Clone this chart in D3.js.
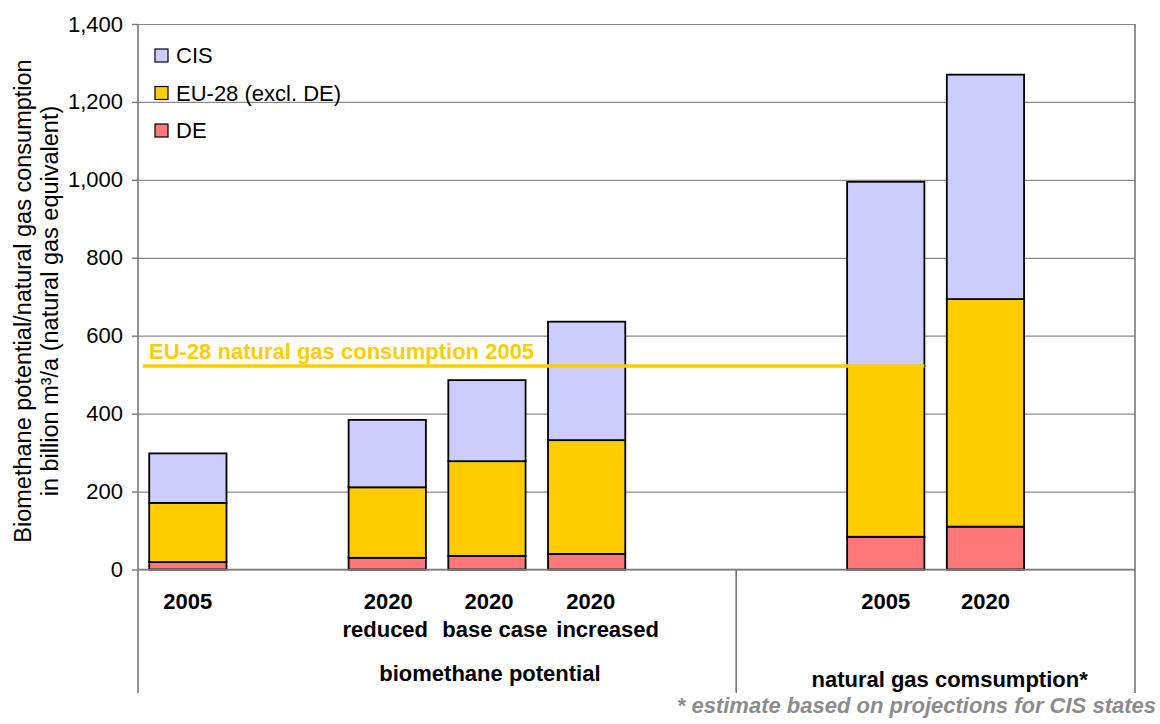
<!DOCTYPE html>
<meta charset="utf-8">
<style>
    body {
        margin: 0;
        background: #fff;
    }

    svg {
        font-family: "Liberation Sans", Arial, Helvetica, sans-serif;
        display: block;
    }

    .grid line {
        stroke: #8a8a8a;
        stroke-width: 1.2px;
    }

    .axisLine {
        stroke: #777;
        stroke-width: 1.6px;
        fill: none;
    }

    rect.bar {
        stroke: #000;
        stroke-width: 1.8px;
    }

    text {
        font-size: 22px;
        fill: #000;
    }
</style>

<body>
    <script src="https://d3js.org/d3.v7.min.js"></script>
    <script>

        // ---- data (billion m3/a) ----
        var categories = ["2005", "", "2020", "2020", "2020", "", "", "2005", "2020", ""];
        var subLabels = ["", "", "reduced", "base case", "increased", "", "", "", "", ""];
        var deValues = [19, null, 30, 35, 40, null, null, 84, 110, null];
        var euValues = [152, null, 181, 243, 292, null, null, 438, 584, null];
        var cisValues = [127, null, 173, 208, 304, null, null, 473, 576, null];
        var seriesNames = ["DE", "EU-28 (excl. DE)", "CIS"];
        var seriesColors = ["#ff7878", "#ffcc00", "#ccccff"];
        var yTicks = [0, 200, 400, 600, 800, 1000, 1200, 1400];
        var eu28Consumption2005 = 522;

        var width = 1160,
            height = 724;

        var plotLeft = 138, plotRight = 1135, plotTop = 24, plotBottom = 569.5, axisBottom = 693;

        var svg = d3.select("body")
            .append("svg")
            .attr("width", width)
            .attr("height", height);

        var idx = categories.map(function (d, i) { return i; });

        var x = d3.scaleBand()
            .domain(idx)
            .range([plotLeft, plotRight])
            .paddingInner(0.225)
            .paddingOuter(0.1125);

        var y = d3.scaleLinear()
            .domain([0, 1400])
            .range([plotBottom, plotTop]);

        // left edge of a slot
        function slotEdge(i) {
            return x(i) - x.step() * x.paddingInner() / 2;
        }

        /* ------- GRID + Y AXIS -------*/
        svg.append("g")
            .attr("class", "grid")
            .attr("transform", "translate(" + plotLeft + ",0)")
            .call(d3.axisLeft(y).tickValues(yTicks).tickSize(-(plotRight - plotLeft)).tickFormat(""))
            .call(function (g) { g.select(".domain").remove(); });

        var yAxis = svg.append("g")
            .attr("transform", "translate(" + plotLeft + ",0)")
            .call(d3.axisLeft(y).tickValues(yTicks).tickSize(6).tickPadding(9).tickFormat(d3.format(",")));
        yAxis.select(".domain").remove();
        yAxis.selectAll(".tick line").attr("stroke", "#777").attr("stroke-width", 1.4);
        yAxis.selectAll(".tick text")
            .attr("font-family", null)
            .attr("font-size", null)
            .style("font-size", "22px")
            .attr("fill", "#000");

        /* ------- BARS -------*/
        var rows = idx.filter(function (i) { return deValues[i] != null; }).map(function (i) {
            return { i: i, DE: deValues[i], EU: euValues[i], CIS: cisValues[i] };
        });

        var stack = d3.stack().keys(["DE", "EU", "CIS"]);
        var layers = stack(rows);

        svg.append("g").selectAll("g")
            .data(layers)
            .join("g")
            .attr("fill", function (d, k) { return seriesColors[k]; })
            .selectAll("rect")
            .data(function (d) { return d; })
            .join("rect")
            .attr("class", "bar")
            .attr("x", function (d) { return x(d.data.i); })
            .attr("width", x.bandwidth())
            .attr("y", function (d) { return y(d[1]); })
            .attr("height", function (d) { return y(d[0]) - y(d[1]); });

        /* ------- EU-28 REFERENCE LINE -------*/
        var ng2005 = 7;
        svg.append("line")
            .attr("x1", plotLeft + 5)
            .attr("x2", x(ng2005) + x.bandwidth())
            .attr("y1", y(eu28Consumption2005))
            .attr("y2", y(eu28Consumption2005))
            .attr("stroke", "#ffcc00")
            .attr("stroke-width", 3.5);

        svg.append("text")
            .attr("x", plotLeft + 11)
            .attr("y", y(eu28Consumption2005) - 7)
            .attr("font-weight", "bold")
            .style("fill", "#ffcc00")
            .text("EU-28 natural gas consumption 2005");

        /* ------- AXIS FRAME -------*/
        svg.append("line").attr("class", "axisLine")
            .attr("x1", plotLeft).attr("x2", plotLeft).attr("y1", plotTop).attr("y2", axisBottom);
        svg.append("line").attr("class", "axisLine")
            .attr("x1", plotLeft).attr("x2", plotRight).attr("y1", plotBottom).attr("y2", plotBottom);
        svg.append("line").attr("class", "axisLine")
            .attr("x1", plotRight).attr("x2", plotRight).attr("y1", plotTop).attr("y2", axisBottom);
        svg.append("line").attr("class", "axisLine")
            .attr("x1", slotEdge(6)).attr("x2", slotEdge(6)).attr("y1", plotBottom).attr("y2", axisBottom);

        /* ------- CATEGORY LABELS -------*/
        var cx = function (i) { return x(i) + x.bandwidth() / 2; };
        var catShift = [0, 0, 1, 2, 4, 0, 0, 0, 0, 0];
        var subShift = [0, 0, -2, 8, 21, 0, 0, 0, 0, 0];

        svg.append("g").selectAll("text")
            .data(idx.filter(function (i) { return categories[i] !== ""; }))
            .join("text")
            .attr("x", function (i) { return cx(i) + catShift[i]; })
            .attr("y", 609)
            .attr("text-anchor", "middle")
            .attr("font-weight", "bold")
            .text(function (i) { return categories[i]; });

        svg.append("g").selectAll("text")
            .data(idx.filter(function (i) { return subLabels[i] !== ""; }))
            .join("text")
            .attr("x", function (i) { return cx(i) + subShift[i]; })
            .attr("y", 637)
            .attr("text-anchor", "middle")
            .attr("font-weight", "bold")
            .text(function (i) { return subLabels[i]; });

        svg.append("text")
            .attr("x", cx(3) + 3)
            .attr("y", 681)
            .attr("text-anchor", "middle")
            .attr("font-weight", "bold")
            .text("biomethane potential");

        svg.append("text")
            .attr("x", (cx(7) + cx(8)) / 2 + 14)
            .attr("y", 687)
            .attr("text-anchor", "middle")
            .attr("font-weight", "bold")
            .text("natural gas comsumption*");

        /* ------- Y TITLE -------*/
        var midY = 301;
        svg.append("text")
            .attr("transform", "translate(31," + midY + ") rotate(-90)")
            .attr("text-anchor", "middle")
            .style("font-size", "23.5px")
            .text("Biomethane potential/natural gas consumption");
        svg.append("text")
            .attr("transform", "translate(58," + midY + ") rotate(-90)")
            .attr("text-anchor", "middle")
            .style("font-size", "23.5px")
            .text("in billion m³/a (natural gas equivalent)");

        /* ------- LEGEND -------*/
        var legend = svg.append("g").attr("transform", "translate(155,49)");
        var legendOrder = [2, 1, 0];
        var item = legend.selectAll("g")
            .data(legendOrder)
            .join("g")
            .attr("transform", function (d, k) { return "translate(0," + k * 37.5 + ")"; });
        item.append("rect")
            .attr("width", 13)
            .attr("height", 13)
            .attr("fill", function (d) { return seriesColors[d]; })
            .attr("stroke", "#000")
            .attr("stroke-width", 1.2);
        item.append("text")
            .attr("x", 21)
            .attr("y", 14)
            .text(function (d) { return seriesNames[d]; });

        /* ------- FOOTNOTE -------*/
        svg.append("text")
            .attr("x", 1156)
            .attr("y", 713)
            .attr("text-anchor", "end")
            .attr("font-weight", "bold")
            .attr("font-style", "italic")
            .style("fill", "#8c8c8c")
            .text("* estimate based on projections for CIS states");

    </script>
</body>
